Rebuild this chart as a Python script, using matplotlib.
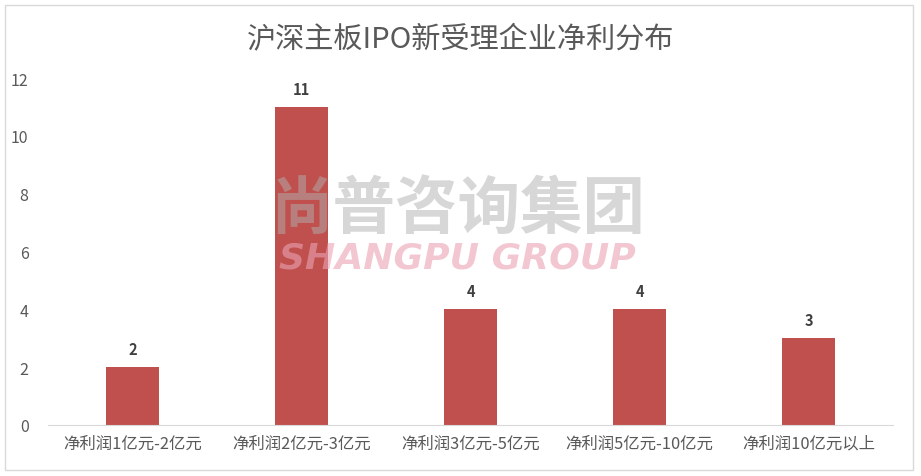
import matplotlib
matplotlib.use('Agg')
from matplotlib import pyplot as plt
from matplotlib.patches import Rectangle

plt.rcParams['font.family'] = ['Noto Sans CJK SC', 'DejaVu Sans']

categories = ['净利润1亿元-2亿元', '净利润2亿元-3亿元', '净利润3亿元-5亿元',
              '净利润5亿元-10亿元', '净利润10亿元以上']
counts = [2, 11, 4, 4, 3]
yticks = [0, 2, 4, 6, 8, 10, 12]
title = '沪深主板IPO新受理企业净利分布'

bar_color = '#C0504D'
text_color = '#595959'

fig = plt.figure(figsize=(9.21, 4.77), dpi=100, facecolor='w')
# outer frame of the chart area
fig.patches.append(Rectangle((5/921, 6/477), 908/921, 465/477, transform=fig.transFigure,
                             fill=False, edgecolor='#D9D9D9', linewidth=1.0))

ax = fig.add_axes([48/921, 51/477, 845/921, 347/477])
x = range(len(categories))
bars = ax.bar(x, counts, width=0.31, color=bar_color, zorder=2)
for xi, v in zip(x, counts):
    ax.text(xi, v + 0.35, str(v), ha='center', va='bottom', fontsize=10.5,
            fontweight='bold', color='#404040')

ax.set_xlim(-0.5, len(categories) - 0.5)
ax.set_ylim(0, 12)
ax.set_yticks(yticks)
ax.set_xticks(list(x))
ax.set_xticklabels(categories)
ax.tick_params(axis='both', length=0, colors=text_color)
ax.tick_params(axis='y', pad=14, labelsize=11.5)
ax.tick_params(axis='x', pad=7, labelsize=11.8)
for s in ['top', 'right', 'left']:
    ax.spines[s].set_visible(False)
ax.spines['bottom'].set_color('#D9D9D9')

fig.text(0.5, 0.915, title, ha='center', va='center', fontsize=21, color=text_color)

# watermark
fig.text(0.497, 0.56, '尚普咨询集团', ha='center', va='center', fontsize=45,
         fontweight='bold', color='#B0B0B0', alpha=0.5, zorder=5)
fig.text(0.497, 0.459, 'SHANGPU GROUP', ha='center', va='center', fontsize=26,
         fontweight='bold', style='italic', color='#EBA3B3', alpha=0.6,
         family='DejaVu Sans', zorder=5)

fig.savefig('out.png', dpi=100, facecolor='w')
